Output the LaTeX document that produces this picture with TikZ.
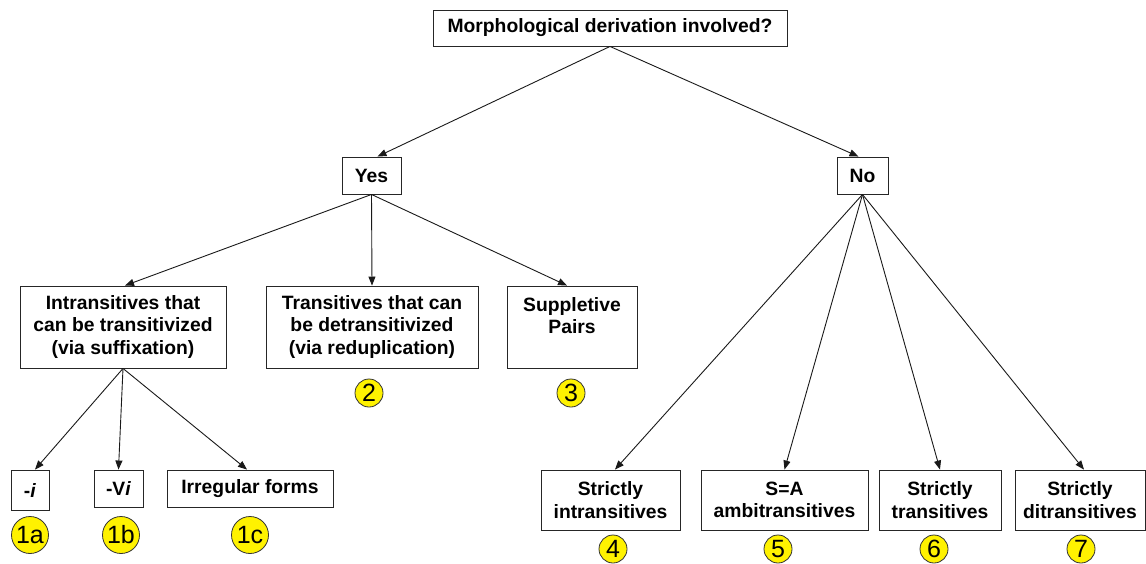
\documentclass[tikz,border=0pt]{standalone}
\usepackage{fontspec}
\setmainfont{Liberation Sans}
\usetikzlibrary{arrows.meta}
\begin{document}
\begin{tikzpicture}[x=1pt,y=-1pt,
  box/.style={draw=black!85,line width=0.9pt,fill=white,inner sep=0pt,align=center,
    font=\fontsize{19.3}{22.5}\selectfont\bfseries},
  num/.style={draw=black!80,line width=0.8pt,fill=yellow,circle,inner sep=0pt,
    minimum size=28pt,font=\fontsize{25}{25}\selectfont},
  bignum/.style={num,minimum size=37pt},
  arr/.style={draw=black!90,line width=0.9pt,-{Triangle[length=9pt,width=7pt]}}]
\useasboundingbox (0,0) rectangle (1146,563);
% level 0
\node[box,minimum width=354pt,minimum height=36pt] (top) at (610,28) {Morphological derivation involved?};
% level 1
\node[box,minimum width=59pt,minimum height=37pt] (yes) at (371.5,175.5) {Yes};
\node[box,minimum width=51pt,minimum height=37pt] (no) at (862.5,175.5) {No};
% level 2 (yes)
\node[box,minimum width=206pt,minimum height=82pt] (intr) at (123,327) {Intransitives that\\can be transitivized\\(via suffixation)};
\node[box,minimum width=212pt,minimum height=82pt] (trans) at (372,327) {Transitives that can\\be detransitivized\\(via reduplication)};
\node[box,minimum width=130pt,minimum height=82pt] (supp) at (572,327) {Suppletive\\Pairs\\~};
% level 3 (suffixation)
\node[box,minimum width=38pt,minimum height=40pt] (ii) at (30,490) {-\textit{i}};
\node[box,minimum width=49pt,minimum height=37pt] (vi) at (118.5,488.5) {-V\textit{i}};
\node[box,minimum width=166pt,minimum height=37pt] (irr) at (250,488.5) {Irregular forms};
% level 2 (no)
\node[box,minimum width=139pt,minimum height=60pt] (sintr) at (610.5,500) {Strictly\\intransitives};
\node[box,minimum width=167pt,minimum height=60pt] (amb) at (784.5,500) {S=A\\ambitransitives};
\node[box,minimum width=122pt,minimum height=60pt] (str) at (940,500) {Strictly\\transitives};
\node[box,minimum width=130pt,minimum height=60pt] (sditr) at (1080,500) {Strictly\\ditransitives};
% numbers
\node[bignum] (n1a) at (30,535) {1a};
\node[bignum] (n1b) at (121,535) {1b};
\node[bignum] (n1c) at (250,535) {1c};
\node[num] (n2) at (369,393) {2};
\node[num] (n3) at (571,393) {3};
\node[num] (n4) at (613,549) {4};
\node[num] (n5) at (778,549) {5};
\node[num] (n6) at (934,549) {6};
\node[num] (n7) at (1081,549) {7};
% connectors
\draw[arr] (top.south) -- ([xshift=6pt]yes.north);
\draw[arr] (top.south) -- ([xshift=-4pt]no.north);
\draw[arr] (yes.south) -- ([xshift=2pt]intr.north);
\draw[arr] (yes.south) -- (trans.north);
\draw[arr] (yes.south) -- ([xshift=-5pt]supp.north);
\draw[arr] (intr.south) -- ([xshift=5pt]ii.north);
\draw[arr] (intr.south) -- (vi.north);
\draw[arr] (intr.south) -- ([xshift=-3pt]irr.north);
\draw[arr] (no.south) -- ([xshift=4.5pt]sintr.north);
\draw[arr] (no.south) -- (amb.north);
\draw[arr] (no.south) -- (str.north);
\draw[arr] (no.south) -- ([xshift=4pt]sditr.north);
\end{tikzpicture}
\end{document}
